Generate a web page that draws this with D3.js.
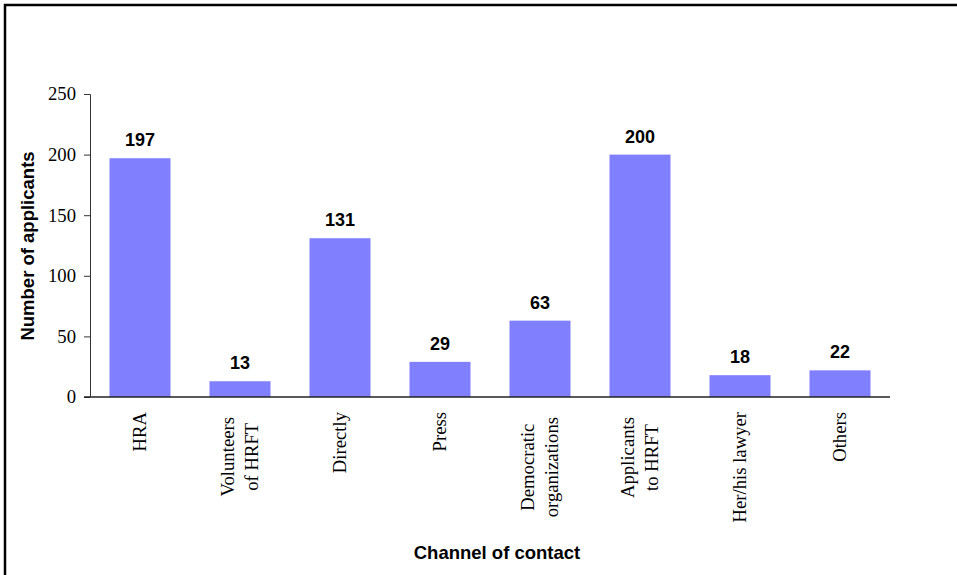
<!DOCTYPE html>
<html>
<head>
<meta charset="utf-8">
<script src="https://cdn.jsdelivr.net/npm/d3@7"></script>
<style>
  body { margin: 0; background: #fff; }
  svg { display: block; }
  .serif { font-family: 'Liberation Serif', 'Times New Roman', serif; }
  .sans { font-family: 'Liberation Sans', Arial, sans-serif; font-weight: bold; }
</style>
</head>
<body>
<script>
const categories = [
  ['HRA'],
  ['Volunteers', 'of HRFT'],
  ['Directly'],
  ['Press'],
  ['Democratic', 'organizations'],
  ['Applicants', 'to HRFT'],
  ['Her/his lawyer'],
  ['Others']
];
const values = [197, 13, 131, 29, 63, 200, 18, 22];
const yTicks = [0, 50, 100, 150, 200, 250];

const svgWidth = 957, svgHeight = 575;
const margins = { top: 94, right: 67, bottom: 178, left: 90 };
const innerW = svgWidth - margins.left - margins.right;
const innerH = svgHeight - margins.top - margins.bottom;

const svg = d3.select('body')
  .append('svg')
  .attr('width', svgWidth)
  .attr('height', svgHeight);

// frame (only top and left edges show in the original)
svg.append('line')
  .attr('x1', 4).attr('x2', 957).attr('y1', 5).attr('y2', 5)
  .attr('stroke', '#000').attr('stroke-width', 2.5);
svg.append('line')
  .attr('x1', 5).attr('x2', 5).attr('y1', 4).attr('y2', 575)
  .attr('stroke', '#000').attr('stroke-width', 2.5);

const g = svg.append('g')
  .attr('transform', `translate(${margins.left}, ${margins.top})`);

const x = d3.scaleBand()
  .domain(d3.range(categories.length))
  .range([0, innerW])
  .paddingInner(0.39)
  .paddingOuter(0.195);

const y = d3.scaleLinear()
  .domain([0, 250])
  .range([innerH, 0]);

// bars
g.selectAll('rect.bar')
  .data(values)
  .enter()
  .append('rect')
  .attr('class', 'bar')
  .attr('x', (d, i) => x(i))
  .attr('y', d => y(d))
  .attr('width', x.bandwidth())
  .attr('height', d => innerH - y(d))
  .attr('fill', '#8080ff');

// value labels
g.selectAll('text.val')
  .data(values)
  .enter()
  .append('text')
  .attr('class', 'val sans')
  .attr('x', (d, i) => x(i) + x.bandwidth() / 2)
  .attr('y', d => y(d) - 12)
  .attr('text-anchor', 'middle')
  .style('font-size', '18px')
  .attr('fill', '#000')
  .text(d => d);

// y axis
const yAxis = g.append('g')
  .call(d3.axisLeft(y).tickValues(yTicks).tickSize(6).tickPadding(8));
yAxis.attr('font-family', null).attr('font-size', null);
yAxis.selectAll('path, line').attr('stroke', '#333');
yAxis.select('.domain').attr('d', `M-6,0.5H0.5V${innerH}`);
yAxis.selectAll('text')
  .attr('class', 'serif')
  .style('font-size', '18.7px')
  .attr('fill', '#000');

// x axis line
g.append('line')
  .attr('x1', -6).attr('x2', innerW)
  .attr('y1', innerH).attr('y2', innerH)
  .attr('stroke', '#222')
  .attr('stroke-width', 1.5);

// category labels, rotated
const lineH = 24;
const labels = g.selectAll('g.cat')
  .data(categories)
  .enter()
  .append('g')
  .attr('class', 'cat')
  .attr('transform', (d, i) => `translate(${x(i) + x.bandwidth() / 2}, ${innerH + 15})`);

labels.each(function(lines) {
  const sel = d3.select(this);
  const t = sel.append('text')
    .attr('class', 'serif')
    .attr('transform', 'rotate(-90)')
    .style('font-size', '18.7px')
    .attr('fill', '#000');
  lines.forEach((ln, k) => {
    t.append('tspan')
      .attr('x', 0)
      .attr('y', (k - (lines.length - 1) / 2) * lineH + 6)
      .text(ln);
  });
  const maxLen = d3.max(t.selectAll('tspan').nodes(), n => n.getComputedTextLength());
  const start = lines.length > 1 ? 5 : 0;
  t.attr('text-anchor', 'middle')
    .selectAll('tspan').attr('x', -(start + maxLen / 2));
});

// axis titles
svg.append('text')
  .attr('class', 'sans')
  .attr('transform', `translate(34, 246) rotate(-90)`)
  .attr('text-anchor', 'middle')
  .style('font-size', '18.5px')
  .text('Number of applicants');

svg.append('text')
  .attr('class', 'sans')
  .attr('x', 497)
  .attr('y', 559)
  .attr('text-anchor', 'middle')
  .style('font-size', '18.5px')
  .text('Channel of contact');
</script>
</body>
</html>
